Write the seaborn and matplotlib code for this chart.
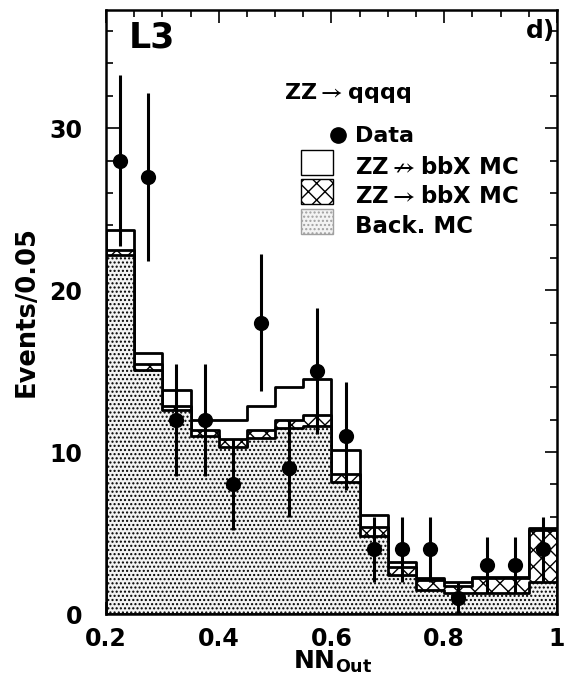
import matplotlib
matplotlib.use("Agg")
import matplotlib.pyplot as plt
from matplotlib.patches import Rectangle
from matplotlib.ticker import MultipleLocator
import seaborn as sns
import pandas as pd
import numpy as np

# NN output bins (width 0.05)
bin_edges = [0.2, 0.25, 0.3, 0.35, 0.4, 0.45, 0.5, 0.55, 0.6,
             0.65, 0.7, 0.75, 0.8, 0.85, 0.9, 0.95, 1.0]
data_counts = [28, 27, 12, 12, 8, 18, 9, 15, 11, 4, 4, 4, 1, 3, 3, 4]
back_mc = [22.2, 15.1, 12.6, 11.0, 10.3, 10.9, 11.5, 11.6,
           8.15, 4.8, 2.4, 1.5, 1.3, 1.3, 1.3, 2.0]
zz_bb_mc = [0.3, 0.35, 0.25, 0.35, 0.5, 0.45, 0.5, 0.7,
            0.5, 0.6, 0.5, 0.6, 0.45, 0.9, 0.9, 3.2]
zz_notbb_mc = [1.2, 0.7, 1.0, 0.65, 1.2, 1.5, 2.0, 2.2,
               1.5, 0.7, 0.3, 0.15, 0.2, 0.07, 0.07, 0.1]

edges = np.array(bin_edges)
df = pd.DataFrame({
    "nn": (edges[:-1] + edges[1:]) / 2,
    "data": data_counts,
    "back": back_mc,
})
df["hatch_top"] = df["back"] + np.array(zz_bb_mc)
df["total"] = df["hatch_top"] + np.array(zz_notbb_mc)

BACK_FACE = "#f3f3f3"
BACK_DOTS = "#b8b8b8"

sns.set_style("ticks")
plt.rcParams["font.family"] = ["DejaVu Sans"]
plt.rcParams["font.weight"] = "bold"
plt.rcParams["axes.labelweight"] = "bold"
for key in ["text.color", "axes.labelcolor", "xtick.color", "ytick.color"]:
    plt.rcParams[key] = "black"
plt.rcParams["mathtext.fontset"] = "custom"
plt.rcParams["mathtext.rm"] = "DejaVu Sans:bold"
plt.rcParams["mathtext.bf"] = "DejaVu Sans:bold"
plt.rcParams["mathtext.sf"] = "STIXGeneral"
plt.rcParams["hatch.linewidth"] = 1.0

fig = plt.figure(figsize=(5.75, 6.84), dpi=100)
ax = fig.add_axes([0.1843, 0.1023, 0.7844, 0.883])

# stacked MC drawn as cumulative layers, top one first
plt.rcParams["hatch.color"] = "black"
sns.histplot(data=df, x="nn", weights="total", bins=bin_edges, element="step",
             fill=True, color="white", edgecolor="black", linewidth=2, alpha=1, ax=ax)
sns.histplot(data=df, x="nn", weights="hatch_top", bins=bin_edges, element="step",
             fill=True, color="white", edgecolor="black", linewidth=2, alpha=1, ax=ax)
ax.collections[-1].set_hatch("xx")
plt.rcParams["hatch.color"] = BACK_DOTS
sns.histplot(data=df, x="nn", weights="back", bins=bin_edges, element="step",
             fill=True, color=BACK_FACE, edgecolor="black", linewidth=2, alpha=1, ax=ax)
ax.collections[-1].set_hatch("....")

# data points with sqrt(N) errors
ax.errorbar(df["nn"], df["data"], yerr=np.sqrt(df["data"]), fmt="none",
            ecolor="black", elinewidth=2.2, capsize=0, zorder=5)
sns.scatterplot(data=df, x="nn", y="data", color="black", s=120,
                edgecolor="black", linewidth=0, zorder=6, ax=ax)

ax.set_xlim(0.2, 1.0)
ax.set_ylim(0, 37.3)
ax.xaxis.set_minor_locator(MultipleLocator(0.05))
ax.yaxis.set_major_locator(MultipleLocator(10))
ax.yaxis.set_minor_locator(MultipleLocator(2))
ax.set_xticks([0.2, 0.4, 0.6, 0.8, 1.0])
ax.set_xticklabels(["0.2", "0.4", "0.6", "0.8", "1"])
ax.tick_params(which="both", direction="in", top=True, right=True,
               width=1.2, labelsize=17)
ax.tick_params(which="major", length=9)
ax.tick_params(which="minor", length=5)
ax.tick_params(axis="x", pad=9)
ax.tick_params(axis="y", pad=17)
for s in ax.spines.values():
    s.set_linewidth(1.8)
    s.set_color("black")

ax.set_xlabel(r"NN$_{\mathrm{Out}}$", fontsize=18)
ax.xaxis.set_label_coords(0.502, -0.058)
ax.set_ylabel("Events/0.05", fontsize=18.5)
ax.yaxis.set_label_coords(-0.148, 0.5)

ax.text(0.051, 0.9384, "L3", transform=ax.transAxes, fontsize=25,
        fontweight="bold", va="baseline", ha="left")
ax.text(0.9956, 0.9534, "d)", transform=ax.transAxes, fontsize=18,
        fontweight="bold", va="baseline", ha="right")

# legend block
ax.text(0.394, 0.853, r"ZZ$\mathsf{\rightarrow}$qqqq", transform=ax.transAxes,
        fontsize=16, va="baseline", ha="left")
ax.plot([0.514], [0.7932], "o", color="black", ms=11, transform=ax.transAxes,
        clip_on=False, zorder=7)
ax.text(0.552, 0.782, "Data", transform=ax.transAxes, fontsize=16,
        va="baseline", ha="left")

legend_labels = [r"ZZ$\mathsf{\nrightarrow}$bbX MC",
                 r"ZZ$\mathsf{\rightarrow}$bbX MC",
                 "Back. MC"]
legend_styles = [("white", "black", None),
                 ("white", "black", "xx"),
                 (BACK_FACE, "#a0a0a0", "....")]
legend_baselines = [0.7285, 0.6805, 0.6305]
for lab, (fc, ec, hat), yb in zip(legend_labels, legend_styles, legend_baselines):
    ax.add_patch(Rectangle((0.4324, yb - 0.002), 0.071, 0.0416, transform=ax.transAxes,
                           facecolor=fc, edgecolor=ec, hatch=hat, linewidth=1,
                           clip_on=False, zorder=7))
    ax.text(0.552, yb, lab, transform=ax.transAxes, fontsize=16.5,
            va="baseline", ha="left")

fig.savefig("out.png", dpi=100)
plt.close(fig)
